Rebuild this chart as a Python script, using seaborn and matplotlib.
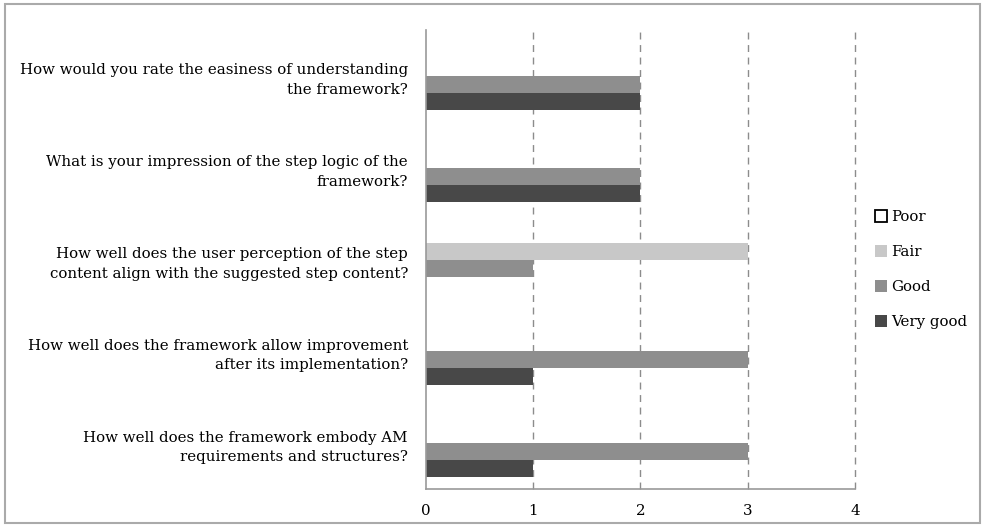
import numpy as np
import pandas as pd
import matplotlib
matplotlib.use("Agg")
import matplotlib.pyplot as plt
import seaborn as sns
from matplotlib.patches import Patch, Rectangle

# -----------------------------
# DATA
# -----------------------------
questions = [
    "How would you rate the easiness of understanding\nthe framework?",
    "What is your impression of the step logic of the\nframework?",
    "How well does the user perception of the step\ncontent align with the suggested step content?",
    "How well does the framework allow improvement\nafter its implementation?",
    "How well does the framework embody AM\nrequirements and structures?",
]
ratings = ["Poor", "Fair", "Good", "Very good"]

poor = [0, 0, 0, 0, 0]
fair = [0, 0, 3, 0, 0]
good = [2, 2, 1, 3, 3]
very_good = [2, 2, 0, 1, 1]

colors = ["#ffffff", "#c8c8c8", "#8e8e8e", "#484848"]

# -----------------------------
# LONG FORMAT
# -----------------------------
rows = []
for series, name in zip([poor, fair, good, very_good], ratings):
    for q, v in zip(questions, series):
        rows.append({"question": q, "rating": name, "count": v})
df = pd.DataFrame(rows)

# -----------------------------
# PLOT
# -----------------------------
sns.set_style("white")
plt.rcParams["font.family"] = ["DejaVu Serif"]
plt.rcParams["text.color"] = "black"
plt.rcParams["xtick.labelcolor"] = "black"
plt.rcParams["ytick.labelcolor"] = "black"

fig = plt.figure(figsize=(9.85, 5.27), dpi=100)
ax = fig.add_axes([0.4325, 0.072, 0.4355, 0.871])

sns.barplot(data=df, y="question", x="count", hue="rating",
            order=questions, hue_order=ratings, palette=colors,
            orient="h", width=0.74, edgecolor="none", legend=False, ax=ax)

ax.set_xlim(0, 4)
ax.set_xticks([0, 1, 2, 3, 4])
ax.set_xlabel("")
ax.set_ylabel("")
ax.tick_params(axis="y", length=0, labelsize=10.8, pad=13)
ax.tick_params(axis="x", length=4, color="#999999", labelsize=10.8, pad=7)
for lbl in ax.get_yticklabels():
    lbl.set_horizontalalignment("right")
    lbl.set_multialignment("right")
    lbl.set_linespacing(1.5)

for x in [1, 2, 3, 4]:
    ax.axvline(x, color="#8c8c8c", linestyle=(0, (5, 4)), linewidth=1,
               zorder=0, clip_on=False)

for side in ["top", "right"]:
    ax.spines[side].set_visible(False)
for side in ["left", "bottom"]:
    ax.spines[side].set_color("#999999")
    ax.spines[side].set_linewidth(1.2)

handles = [Patch(facecolor=c, edgecolor="black" if r == "Poor" else c,
                 linewidth=1.3 if r == "Poor" else 0, label=r)
           for r, c in zip(ratings, colors)]
fig.legend(handles=handles, loc="center left", bbox_to_anchor=(0.875, 0.488),
           frameon=False, fontsize=10.8, handlelength=0.8, handleheight=0.8,
           handletextpad=0.25, labelspacing=1.4)

# outer frame
fig.patches.append(Rectangle((0.005, 0.008), 0.99, 0.984, transform=fig.transFigure,
                             fill=False, edgecolor="#aaaaaa", linewidth=1.5))

fig.savefig("out.png", dpi=100)
